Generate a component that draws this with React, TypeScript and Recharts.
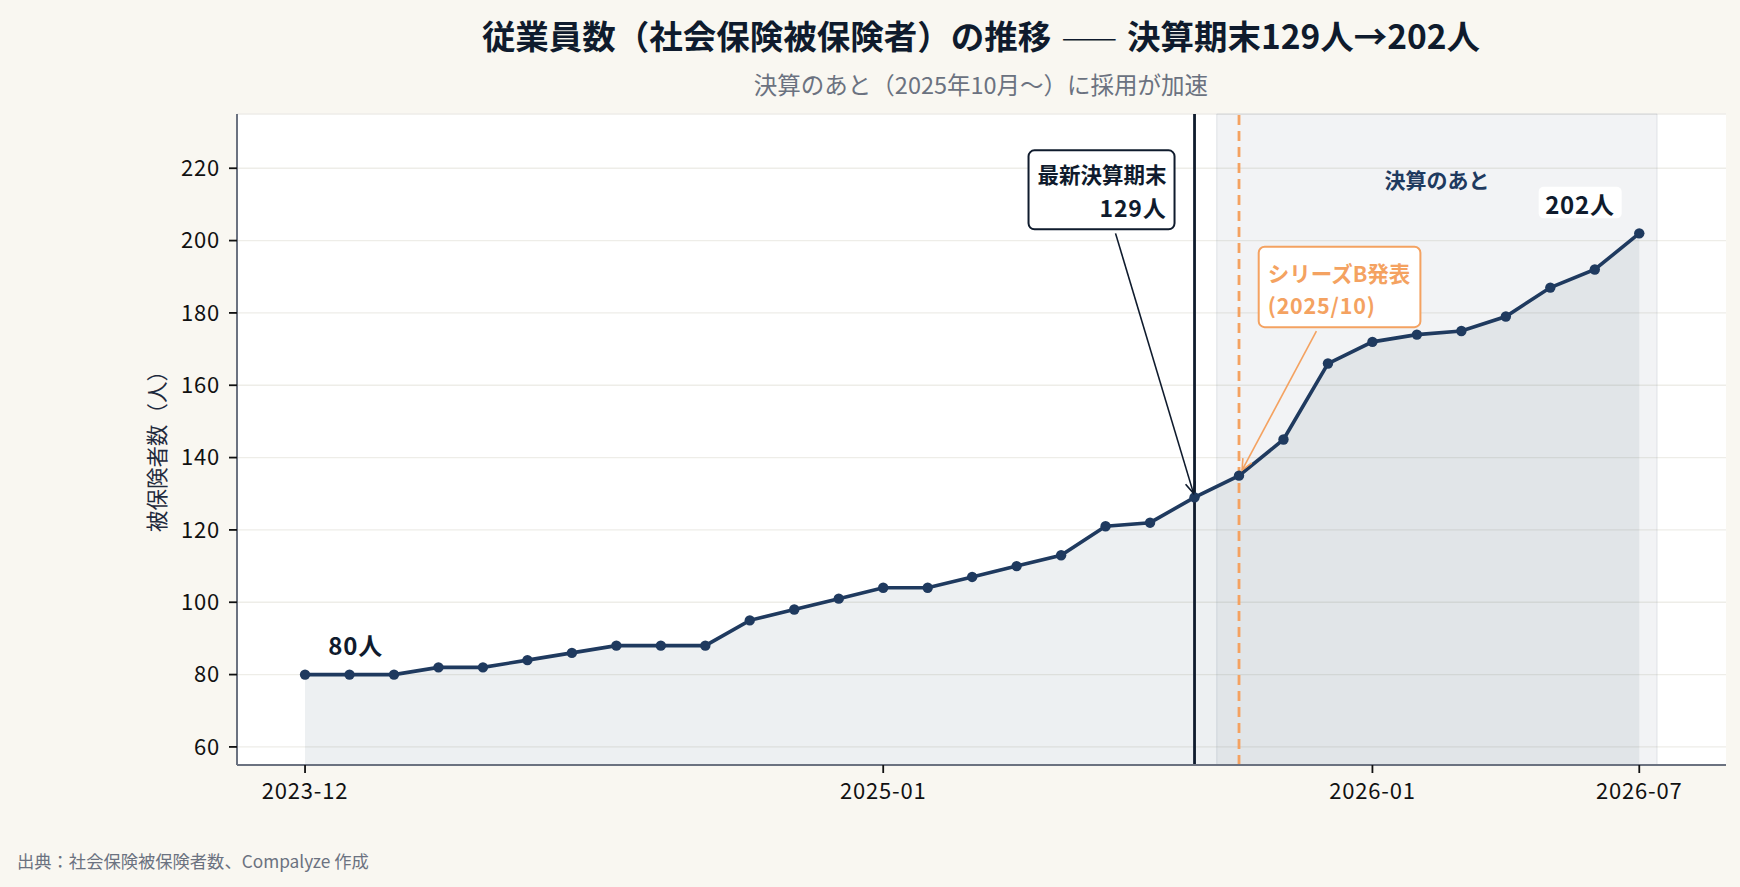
import React from 'react';
import {
  ComposedChart,
  Line,
  Area,
  XAxis,
  YAxis,
  CartesianGrid,
  ReferenceLine,
  ReferenceArea,
  ReferenceDot,
} from 'recharts';

// ---- data ----
const headcount = [
  80, 80, 80, 82, 82, 84, 86, 88, 88, 88, 95, 98, 101, 104, 104, 107, 110, 113,
  121, 122, 129, 135, 145, 166, 172, 174, 175, 179, 187, 192, 202,
];
const xTickIndex = [0, 13, 24, 30];
const xTickLabels = ['2023-12', '2025-01', '2026-01', '2026-07'];
const yTicks = [60, 80, 100, 120, 140, 160, 180, 200, 220];
const settlementIndex = 20;
const seriesBIndex = 21;
const afterRange = [20.5, 30.4];
const afterLabelValue = 217;

const TITLE_LEFT = '従業員数（社会保険被保険者）の推移';
const TITLE_DASH = '——';
const TITLE_RIGHT = '決算期末129人→202人';
const SUBTITLE = '決算のあと（2025年10月〜）に採用が加速';
const Y_LABEL = '被保険者数（人）';
const FOOTER = '出典：社会保険被保険者数、Compalyze 作成';
const SETTLEMENT_LABEL = ['最新決算期末', '129人'];
const SERIES_B_LABEL = ['シリーズB発表', '(2025/10)'];
const AFTER_LABEL = '決算のあと';

const data = headcount.map((v, i) => ({ i, v }));
const firstIdx = 0;
const lastIdx = headcount.length - 1;

const FONT = '"Noto Sans CJK JP", "Noto Sans", sans-serif';
const NAVY = '#1f3a5f';
const DARK = '#0f1b2d';
const ORANGE = '#f4a261';

function arrow(x1: number, y1: number, x2: number, y2: number, color: string, w: number) {
  const ang = Math.atan2(y2 - y1, x2 - x1);
  const L = 11;
  const H = 5;
  const bx = x2 - L * Math.cos(ang);
  const by = y2 - L * Math.sin(ang);
  const px = -Math.sin(ang) * H;
  const py = Math.cos(ang) * H;
  return (
    <g>
      <line x1={x1} y1={y1} x2={x2} y2={y2} stroke={color} strokeWidth={w} />
      <polyline
        points={`${bx + px},${by + py} ${x2},${y2} ${bx - px},${by - py}`}
        fill="none"
        stroke={color}
        strokeWidth={w}
      />
    </g>
  );
}

const SettlementShape = (p: any) => {
  const { cx, cy } = p;
  return (
    <g>
      {arrow(cx - 79, cy - 264, cx - 1, cy - 4, DARK, 1.6)}
      <rect x={cx - 166} y={cy - 347} width={146} height={79} rx={6} fill="#fff" stroke={DARK} strokeWidth={2} />
      <text x={cx - 28} y={cy - 323.7} textAnchor="end" dominantBaseline="central" fontFamily={FONT} fontWeight={700} fontSize={21.5} fill={DARK}>
        {SETTLEMENT_LABEL[0]}
      </text>
      <text x={cx - 28} y={cy - 290.7} textAnchor="end" dominantBaseline="central" fontFamily={FONT} fontWeight={700} fontSize={23} letterSpacing={0.8} fill={DARK}>
        {SETTLEMENT_LABEL[1]}
      </text>
    </g>
  );
};

const SeriesBShape = (p: any) => {
  const { cx, cy } = p;
  return (
    <g>
      {arrow(cx + 77.4, cy - 144.5, cx + 3.1, cy - 5.5, ORANGE, 1.6)}
      <rect x={cx + 19.7} y={cy - 228.9} width={161.7} height={80.4} rx={6} fill="#fff" stroke={ORANGE} strokeWidth={2} />
      <text x={cx + 28.7} y={cy - 203.5} textAnchor="start" dominantBaseline="central" fontFamily={FONT} fontWeight={700} fontSize={21.5} fill={ORANGE}>
        {SERIES_B_LABEL[0]}
      </text>
      <text x={cx + 28.7} y={cy - 171.2} textAnchor="start" dominantBaseline="central" fontFamily={FONT} fontWeight={700} fontSize={21.5} letterSpacing={0.8} fill={ORANGE}>
        {SERIES_B_LABEL[1]}
      </text>
    </g>
  );
};

const FirstShape = (p: any) => (
  <text x={p.cx + 50.6} y={p.cy - 30.2} textAnchor="middle" dominantBaseline="central" fontFamily={FONT} fontWeight={700} fontSize={24} letterSpacing={0.8} fill={DARK}>
    {`${headcount[firstIdx]}人`}
  </text>
);

const LastShape = (p: any) => (
  <g>
    <rect x={p.cx - 100.6} y={p.cy - 46.6} width={83} height={31.6} rx={5} fill="#fff" />
    <text x={p.cx - 59.3} y={p.cy - 30} textAnchor="middle" dominantBaseline="central" fontFamily={FONT} fontWeight={700} fontSize={24} letterSpacing={0.8} fill={DARK}>
      {`${headcount[lastIdx]}人`}
    </text>
  </g>
);

const AfterShape = (p: any) => (
  <text x={p.cx} y={p.cy} textAnchor="middle" dominantBaseline="central" fontFamily={FONT} fontWeight={700} fontSize={21} fill={NAVY}>
    {AFTER_LABEL}
  </text>
);

const tickStyle = { fill: '#111', fontSize: 22, fontFamily: FONT, letterSpacing: 0.8 };

export default function App() {
  return (
    <div
      style={{
        position: 'absolute',
        left: 0,
        top: 0,
        width: 1740,
        height: 887,
        background: '#f9f7f1',
        fontFamily: FONT,
        overflow: 'hidden',
      }}
    >
      <div style={{ position: 'absolute', left: 0, top: 0 }}>
        <ComposedChart width={1740} height={887} data={data} margin={{ top: 114, right: 14, bottom: 0, left: 0 }}>
          <CartesianGrid vertical={false} stroke="#eeede8" strokeWidth={1.3} fill="#ffffff" />
          <ReferenceArea
            x1={afterRange[0]}
            x2={afterRange[1]}
            fill="#8a94a6"
            fillOpacity={0.11}
            stroke="#9ca3af"
            strokeOpacity={0.25}
            ifOverflow="visible"
          />
          <XAxis
            type="number"
            dataKey="i"
            domain={[-1.53, 31.95]}
            ticks={xTickIndex}
            interval={0}
            allowDataOverflow
            tickFormatter={(v: number) => xTickLabels[xTickIndex.indexOf(v)] ?? ''}
            height={122}
            axisLine={{ stroke: '#6b7280', strokeWidth: 2 }}
            tickLine={{ stroke: '#111', strokeWidth: 1.8 }}
            tickSize={8}
            tickMargin={10}
            tick={tickStyle}
          />
          <YAxis
            type="number"
            domain={[55, 235]}
            ticks={yTicks}
            interval={0}
            allowDataOverflow
            width={237}
            axisLine={{ stroke: '#6b7280', strokeWidth: 2 }}
            tickLine={{ stroke: '#111', strokeWidth: 1.8 }}
            tickSize={8}
            tickMargin={9}
            tick={tickStyle}
          />
          <Area
            type="linear"
            dataKey="v"
            fill={NAVY}
            fillOpacity={0.08}
            stroke="none"
            isAnimationActive={false}
            activeDot={false}
          />
          <ReferenceLine x={settlementIndex} stroke={DARK} strokeWidth={2.8} ifOverflow="visible" />
          <ReferenceLine x={seriesBIndex} stroke={ORANGE} strokeWidth={2.8} strokeDasharray="10 6" ifOverflow="visible" />
          <Line
            type="linear"
            dataKey="v"
            stroke={NAVY}
            strokeWidth={3.6}
            dot={{ r: 5.2, fill: NAVY, stroke: NAVY, strokeWidth: 0 }}
            activeDot={false}
            isAnimationActive={false}
          />
          <ReferenceDot x={firstIdx} y={headcount[firstIdx]} r={0} shape={FirstShape} ifOverflow="visible" />
          <ReferenceDot x={lastIdx} y={headcount[lastIdx]} r={0} shape={LastShape} ifOverflow="visible" />
          <ReferenceDot
            x={(afterRange[0] + afterRange[1]) / 2}
            y={afterLabelValue}
            r={0}
            shape={AfterShape}
            ifOverflow="visible"
          />
          <ReferenceDot x={settlementIndex} y={headcount[settlementIndex]} r={0} shape={SettlementShape} ifOverflow="visible" />
          <ReferenceDot x={seriesBIndex} y={headcount[seriesBIndex]} r={0} shape={SeriesBShape} ifOverflow="visible" />
        </ComposedChart>
      </div>
      <div
        style={{
          position: 'absolute',
          left: 981,
          top: 35,
          transform: 'translate(-50%, -50%)',
          fontSize: 33.5,
          fontWeight: 700,
          color: DARK,
          whiteSpace: 'nowrap',
          lineHeight: 1,
        }}
      >
        {TITLE_LEFT}
        <span style={{ fontWeight: 300, margin: '0 10px' }}>{TITLE_DASH}</span>
        {TITLE_RIGHT}
      </div>
      <div
        style={{
          position: 'absolute',
          left: 981,
          top: 85,
          transform: 'translate(-50%, -50%)',
          fontSize: 23.5,
          color: '#6b7280',
          whiteSpace: 'nowrap',
          lineHeight: 1,
        }}
      >
        {SUBTITLE}
      </div>
      <div
        style={{
          position: 'absolute',
          left: 156,
          top: 445.5,
          transform: 'translate(-50%, -50%) rotate(-90deg)',
          fontSize: 21.5,
          color: '#1f2a3d',
          whiteSpace: 'nowrap',
          lineHeight: 1,
        }}
      >
        {Y_LABEL}
      </div>
      <div
        style={{
          position: 'absolute',
          left: 17,
          top: 861,
          transform: 'translateY(-50%)',
          fontSize: 17.3,
          color: '#6b7280',
          whiteSpace: 'nowrap',
          lineHeight: 1,
        }}
      >
        {FOOTER}
      </div>
    </div>
  );
}
